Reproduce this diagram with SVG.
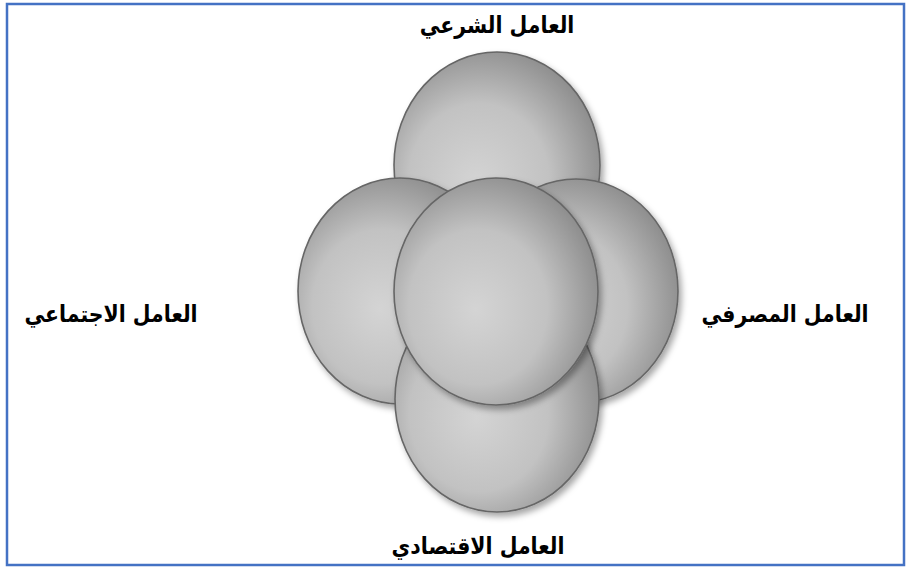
<svg xmlns="http://www.w3.org/2000/svg" width="909" height="570" viewBox="0 0 909 570">
  <defs>
    <radialGradient id="g" cx="0.42" cy="0.56" r="0.62" fx="0.4" fy="0.58">
      <stop offset="0" stop-color="#d4d4d4"/>
      <stop offset="0.55" stop-color="#c2c2c2"/>
      <stop offset="1" stop-color="#8a8a8a"/>
    </radialGradient>
    <filter id="sh" x="-20%" y="-20%" width="150%" height="150%">
      <feDropShadow dx="3" dy="4" stdDeviation="3" flood-color="#000" flood-opacity="0.35"/>
    </filter>
  </defs>
  <style>
    .c { fill: url(#g); stroke: #666; stroke-width: 1.6; filter: url(#sh); }
    .t { font-family: "DejaVu Sans", "Noto Sans", sans-serif; font-weight: bold; font-size: 22px; fill: #000; text-anchor: middle; }
  </style>
  <rect x="7" y="4" width="897" height="561" fill="#fff" stroke="#4472c4" stroke-width="2.5"/>
  <g id="node-top"><ellipse class="c" cx="497" cy="165" rx="103" ry="113"/></g>
  <g id="node-left"><ellipse class="c" cx="400" cy="291" rx="102" ry="113"/></g>
  <g id="node-right"><ellipse class="c" cx="576" cy="291" rx="102" ry="112"/></g>
  <g id="node-bottom"><ellipse class="c" cx="497" cy="399" rx="102" ry="113"/></g>
  <g id="node-center"><ellipse class="c" cx="496" cy="291.5" rx="102" ry="113.5"/></g>
  <g id="connectors"></g>
  <g id="labels">
    <text class="t" transform="translate(497,33) scale(0.93,1.05)" direction="rtl">العامل الشرعي</text>
    <text class="t" transform="translate(111,322) scale(0.93,1.05)" direction="rtl">العامل الاجتماعي</text>
    <text class="t" transform="translate(785,322) scale(0.93,1.05)" direction="rtl">العامل المصرفي</text>
    <text class="t" transform="translate(478,554) scale(0.93,1.05)" direction="rtl">العامل الاقتصادي</text>
  </g>
</svg>
